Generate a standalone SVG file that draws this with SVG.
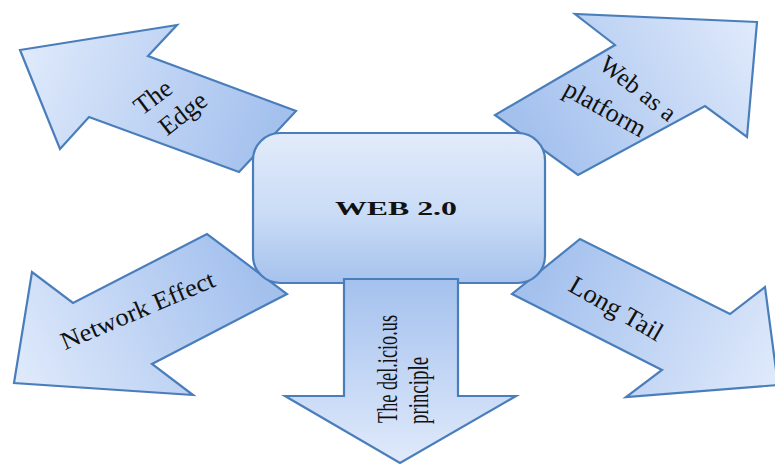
<svg xmlns="http://www.w3.org/2000/svg" width="775" height="465" viewBox="0 0 775 465">
<style>
.ar{stroke:#4a7ebb;stroke-width:2.2;stroke-linejoin:miter}
.t{font-family:"Liberation Serif","Times New Roman",serif;fill:#111}
</style>
<defs>
<linearGradient id="gTL" gradientUnits="userSpaceOnUse" x1="20" y1="50" x2="267" y2="141"><stop offset="0" stop-color="#e0eafb"/><stop offset="1" stop-color="#a4c1ee"/></linearGradient>
<linearGradient id="gTR" gradientUnits="userSpaceOnUse" x1="757" y1="22" x2="536" y2="145"><stop offset="0" stop-color="#e0eafb"/><stop offset="1" stop-color="#a4c1ee"/></linearGradient>
<linearGradient id="gBL" gradientUnits="userSpaceOnUse" x1="14" y1="383" x2="247" y2="264"><stop offset="0" stop-color="#e0eafb"/><stop offset="1" stop-color="#a4c1ee"/></linearGradient>
<linearGradient id="gBR" gradientUnits="userSpaceOnUse" x1="778" y1="385" x2="546" y2="266"><stop offset="0" stop-color="#e0eafb"/><stop offset="1" stop-color="#a4c1ee"/></linearGradient>
<linearGradient id="gD" gradientUnits="userSpaceOnUse" x1="400" y1="463" x2="400" y2="279"><stop offset="0" stop-color="#e0eafb"/><stop offset="1" stop-color="#a4c1ee"/></linearGradient>
<linearGradient id="gC" x1="0" y1="0" x2="0" y2="1"><stop offset="0" stop-color="#e2ebfa"/><stop offset="0.55" stop-color="#c9dbf6"/><stop offset="1" stop-color="#a6c2ed"/></linearGradient>
</defs>
<g id="edge-top-left">
<polygon class="ar" fill="url(#gTL)" points="20,50 177,25 148,56 296,111 239,172 89,117 60,149"/>
<text class="t" font-size="26" text-anchor="middle" transform="translate(158,104) rotate(-37)">The</text>
<text class="t" font-size="26" text-anchor="middle" transform="translate(188,120) rotate(-38)">Edge</text>
</g>
<g id="platform-top-right">
<polygon class="ar" fill="url(#gTR)" points="757,22 575,14 615,45 495,115 578,175 705,106 747,137"/>
<text class="t" font-size="25" text-anchor="middle" transform="translate(633,95) rotate(38)">Web as a</text>
<text class="t" font-size="26" text-anchor="middle" transform="translate(601,116) rotate(29)">platform</text>
</g>
<g id="network-bottom-left">
<polygon class="ar" fill="url(#gBL)" points="14,383 32,272 73,303 207,234 287,294 152,364 193,395"/>
<text class="t" font-size="25" text-anchor="middle" textLength="165" lengthAdjust="spacingAndGlyphs" transform="translate(141,318) rotate(-23)">Network Effect</text>
</g>
<g id="longtail-bottom-right">
<polygon class="ar" fill="url(#gBR)" points="778,385 765,287 730,314 580,239 512,294 662,370 626,397"/>
<text class="t" font-size="26" text-anchor="middle" textLength="104" lengthAdjust="spacingAndGlyphs" transform="translate(612,316) rotate(30)">Long Tail</text>
</g>
<g id="web20-center">
<rect x="253" y="133" width="292" height="150" rx="27" ry="27" fill="url(#gC)" stroke="#4a7ebb" stroke-width="2.2"/>
<text class="t" font-size="19" font-weight="bold" text-anchor="middle" textLength="122" lengthAdjust="spacingAndGlyphs" x="396" y="215">WEB 2.0</text>
</g>
<g id="delicious-bottom">
<polygon class="ar" fill="url(#gD)" points="344,279 458,279 458,396 516,396 400,463 285,396 344,396"/>
<text class="t" font-size="29" textLength="108" lengthAdjust="spacingAndGlyphs" transform="translate(397,423) rotate(-90)">The del.icio.us</text>
<text class="t" font-size="29" textLength="67" lengthAdjust="spacingAndGlyphs" transform="translate(428,424) rotate(-90)">principle</text>
</g>
<g id="connectors"></g>
</svg>
